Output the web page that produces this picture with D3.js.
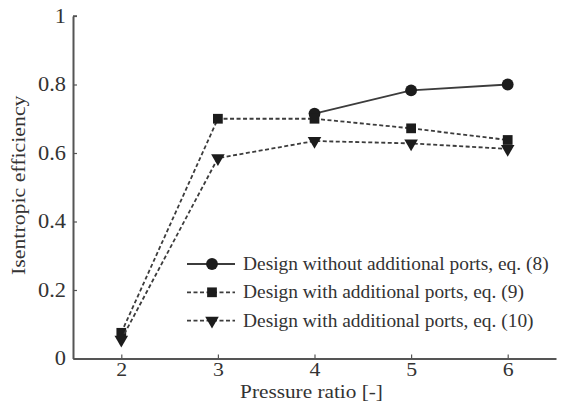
<!DOCTYPE html>
<html>
<head>
<meta charset="utf-8">
<script src="https://cdn.jsdelivr.net/npm/d3@7"></script>
<style>
  body { margin: 0; background: #fff; }
  text { font-family: "Liberation Serif", "Times New Roman", serif; fill: #333; }
</style>
</head>
<body>
<div class="chart"></div>
<script>
// values
const pressureRatio = [2, 3, 4, 5, 6];
const withoutPorts = [null, null, 0.715, 0.783, 0.80];   // eq. (8)
const withPortsEq9 = [0.075, 0.70, 0.70, 0.672, 0.638];  // eq. (9)
const withPortsEq10 = [0.055, 0.585, 0.635, 0.628, 0.612]; // eq. (10)
const seriesNames = [
    "Design without additional ports, eq. (8)",
    "Design with additional ports, eq. (9)",
    "Design with additional ports, eq. (10)"
];
const xTicks = [2, 3, 4, 5, 6];
const yTicks = [0, 0.2, 0.4, 0.6, 0.8, 1];

const width = 566, height = 410;
const margin = {top: 16, right: 10, bottom: 52, left: 73};
const stretch = 1.12; // the original type is a bit wide

const svg = d3.select('.chart')
    .append('svg')
    .attr("width", width)
    .attr("height", height);

const x = d3.scaleLinear()
    .domain([1.5, 6.5])
    .range([margin.left, 556]);
const y = d3.scaleLinear()
    .domain([0, 1])
    .range([358.5, margin.top]);

const ink = "#3c3c3c";

// axes: left and bottom only, ticks pointing inward
const xAxis = svg.append("g")
    .attr("transform", `translate(0,${y(0)})`)
    .call(d3.axisBottom(x).tickValues(xTicks).tickFormat(d3.format("d")).tickSizeInner(-4).tickSizeOuter(0).tickPadding(4));
const yAxis = svg.append("g")
    .attr("transform", `translate(${margin.left},0)`)
    .call(d3.axisLeft(y).tickValues(yTicks).tickFormat(d => d === 0 || d === 1 ? d : d3.format(".1f")(d)).tickSizeInner(-4).tickSizeOuter(0).tickPadding(7));

[xAxis, yAxis].forEach(a => {
    a.select(".domain").attr("stroke", "#555").attr("stroke-width", 2);
    a.selectAll(".tick line").attr("stroke", "#555").attr("stroke-width", 1.2);
    a.selectAll(".tick text").attr("font-size", 20).attr("fill", "#333");
});
xAxis.selectAll(".tick text").attr("font-size", 19.5);
// widen the tick labels without moving their anchor
yAxis.selectAll(".tick text")
    .attr("x", -7 / stretch)
    .attr("transform", `scale(${stretch},1)`);
xAxis.selectAll(".tick text")
    .attr("transform", `scale(${stretch},1)`);

svg.append("line")
    .attr("x1", margin.left).attr("x2", margin.left + 4)
    .attr("y1", y(1)).attr("y2", y(1))
    .attr("stroke", "#555").attr("stroke-width", 1.5);

svg.append("text")
    .attr("transform", `translate(${(x(2) + x(6)) / 2 - 3},398) scale(${stretch},1)`)
    .attr("text-anchor", "middle")
    .attr("font-size", 19)
    .text("Pressure ratio [-]");

svg.append("text")
    .attr("transform", `translate(25,${(y(0) + y(1)) / 2-2}) rotate(-90) scale(${stretch},1)`)
    .attr("text-anchor", "middle")
    .attr("font-size", 19.5)
    .text("Isentropic efficiency");

const series = [
    {name: seriesNames[0], values: withoutPorts, dash: null, marker: d3.symbolCircle, size: 110},
    {name: seriesNames[1], values: withPortsEq9, dash: "4,2.5", marker: d3.symbolSquare, size: 95},
    {name: seriesNames[2], values: withPortsEq10, dash: "4,2.5", marker: d3.symbolTriangle, size: 80}
];

const line = d3.line()
    .defined(d => d[1] != null)
    .x(d => x(d[0]))
    .y(d => y(d[1]));

series.forEach(s => {
    const pts = pressureRatio.map((p, i) => [p, s.values[i]]);
    svg.append("path")
        .datum(pts)
        .attr("fill", "none")
        .attr("stroke", ink)
        .attr("stroke-width", 1.8)
        .attr("stroke-dasharray", s.dash)
        .attr("d", line);

    svg.selectAll(null)
        .data(pts.filter(d => d[1] != null))
        .join("path")
        .attr("transform", d => `translate(${x(d[0])},${y(d[1])})` + (s.marker === d3.symbolTriangle ? " rotate(180)" : ""))
        .attr("d", d3.symbol().type(s.marker).size(s.size))
        .attr("fill", "#1c1c1c");
});

// legend
const legend = svg.append("g").attr("transform", "translate(187,264)");
series.forEach((s, i) => {
    const row = legend.append("g").attr("transform", `translate(0,${i * 28.3})`);
    row.append("line")
        .attr("x1", 0).attr("x2", 48)
        .attr("stroke", ink)
        .attr("stroke-width", 1.8)
        .attr("stroke-dasharray", s.dash);
    row.append("path")
        .attr("transform", "translate(25,0)" + (s.marker === d3.symbolTriangle ? " rotate(180)" : ""))
        .attr("d", d3.symbol().type(s.marker).size(s.size))
        .attr("fill", "#1c1c1c");
    row.append("text")
        .attr("transform", "translate(56,6) scale(1.05,1)")
        .attr("font-size", 18.5)
        .text(s.name);
});
</script>
</body>
</html>
